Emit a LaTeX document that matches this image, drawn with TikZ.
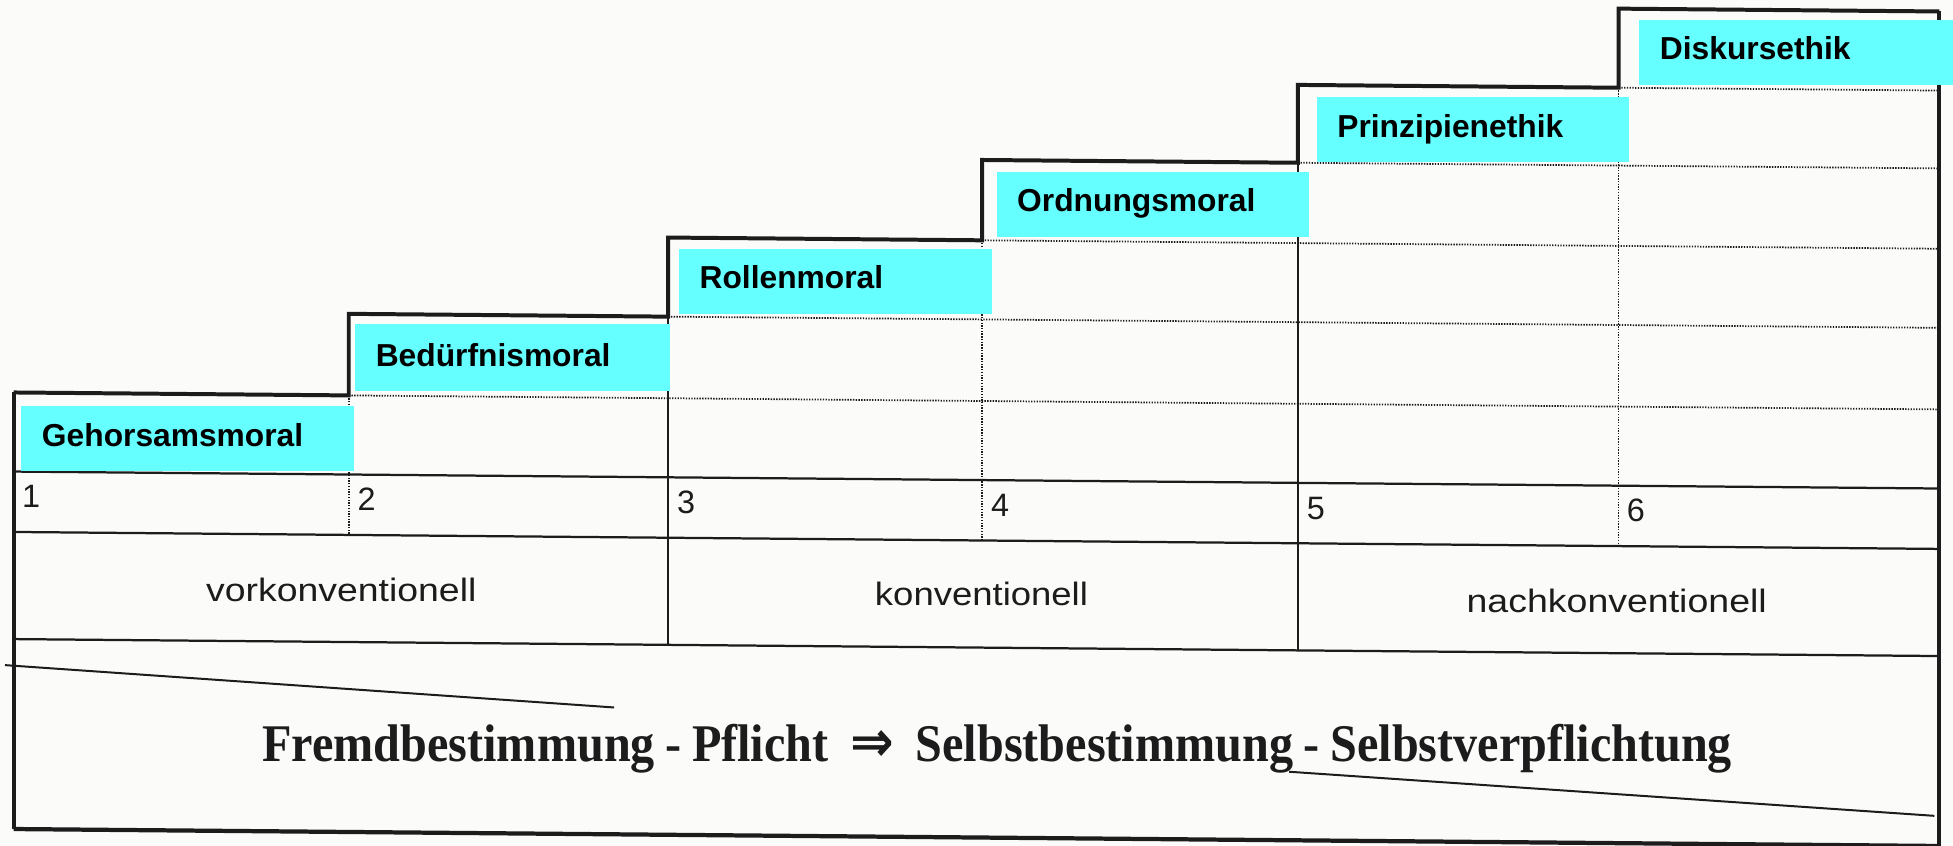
\documentclass[tikz,border=0pt]{standalone}
\usepackage{fontspec}
\newfontfamily\sansf{Liberation Sans}
\newfontfamily\seriff{Liberation Serif}
\newfontfamily\arrowf{DejaVu Sans}
\definecolor{cyanbox}{RGB}{102,255,255}
\definecolor{paper}{RGB}{251,251,249}
\definecolor{ink}{RGB}{28,28,28}
\begin{document}
\begin{tikzpicture}[x=1pt,y=-1pt,
  stepline/.style={line width=3.2pt, draw=ink, line join=miter},
  border/.style={line width=3pt, draw=ink},
  rowline/.style={line width=1.8pt, draw=ink},
  colline/.style={line width=1.5pt, draw=ink},
  dotline/.style={line width=1.4pt, draw=ink, dash pattern=on 1.1pt off 1.1pt},
  diag/.style={line width=1.6pt, draw=ink},
  levelbox/.style={fill=cyanbox, draw=none, inner sep=0pt, anchor=north west},
  boxtext/.style={anchor=base west, inner sep=0pt, font=\fontsize{25.5}{30}\sansf\bfseries},
  numtext/.style={anchor=base west, inner sep=0pt, text=ink, font=\fontsize{26}{30}\sansf},
  stagetext/.style={anchor=base, inner sep=0pt, text=ink, font=\fontsize{26}{30}\sansf}]
\useasboundingbox (0,0) rectangle (1568,679.2);
\fill[paper] (0,0) rectangle (1568,679.2);

\begin{scope}[yslant=-0.0088]
  \path (11,315) coordinate (s1)
        (280,315) coordinate (s1r) (280,249.5) coordinate (s2)
        (536.5,249.5) coordinate (s2r) (536.5,186) coordinate (s3)
        (788.5,186) coordinate (s3r) (788.5,121.5) coordinate (s4)
        (1042,121.5) coordinate (s4r) (1042,59) coordinate (s5)
        (1299.5,59) coordinate (s5r) (1299.5,-4.5) coordinate (s6)
        (1557,-4.5) coordinate (s6r);
  % dotted horizontal level lines
  \draw[dotline] (280,315) -- (1557,315);
  \draw[dotline] (536.5,249.5) -- (1557,249.5);
  \draw[dotline] (788.5,186) -- (1557,186);
  \draw[dotline] (1042,121.5) -- (1557,121.5);
  \draw[dotline] (1299.5,59) -- (1557,59);
  % dotted verticals
  \draw[dotline] (280,315) -- (280,427);
  \draw[dotline] (788.5,186) -- (788.5,427);
  \draw[dotline] (1299.5,59) -- (1299.5,427);
  % solid verticals
  \draw[colline] (536.5,249.5) -- (536.5,513);
  \draw[colline] (1042,121.5) -- (1042,513);
  % row lines
  \draw[rowline] (11,378.5) -- (1557,378.5);
  \draw[rowline] (11,427) -- (1557,427);
  \draw[rowline] (11,513) -- (1557,513);
  \draw[line width=3.4pt, draw=ink] (11,665.5) -- (1557,665.5);
  % borders
  \draw[border] (11,315) -- (11,665.5);
  \draw[border] (1557,-4.5) -- (1557,665.5);
  % staircase
  \draw[stepline] (s1) -- (s1r) -- (s2) -- (s2r) -- (s3) -- (s3r) -- (s4)
     -- (s4r) -- (s5) -- (s5r) -- (s6) -- (s6r);
  % numbers
  \node[numtext] (n1) at (17.5,407.5) {1};
  \node[numtext] (n2) at (287,407.5) {2};
  \node[numtext] (n3) at (543.5,407.5) {3};
  \node[numtext] (n4) at (795.5,407.5) {4};
  \node[numtext] (n5) at (1049,407.5) {5};
  \node[numtext] (n6) at (1306,407.5) {6};
  % stages
  \node[stagetext] (vor) at (274,480.5) {\resizebox{217pt}{\height}{vorkonventionell}};
  \node[stagetext] (kon) at (788,479.5) {\resizebox{171pt}{\height}{konventionell}};
  \node[stagetext] (nach) at (1298,480.5) {\resizebox{241pt}{\height}{nachkonventionell}};
\end{scope}

% diagonal lines of the bottom band
\draw[diag] (4,534) -- (493,568);
\draw[diag] (1035,619.6) -- (1553,655);

\node[anchor=base, inner sep=0pt, text=ink] (motto) at (800.6,611)
  {\resizebox{1180pt}{\height}{\fontsize{42.5}{48}\seriff\bfseries Fremdbestimmung\hspace{0.22em}-\hspace{0.22em}Pflicht\hspace{0.45em}{\arrowf\fontsize{46}{48}\selectfont ⇒}\hspace{0.45em}Selbstbestimmung\hspace{0.22em}-\hspace{0.22em}Selbstverpflichtung}};

% cyan level boxes
\node[levelbox, minimum width=267pt, minimum height=52pt] (b1) at (17,326) {};
\node[levelbox, minimum width=252.5pt, minimum height=53.5pt] (b2) at (285,260) {};
\node[levelbox, minimum width=251.5pt, minimum height=52pt] (b3) at (545,200) {};
\node[levelbox, minimum width=251pt, minimum height=52pt] (b4) at (800,138) {};
\node[levelbox, minimum width=251pt, minimum height=52pt] (b5) at (1057,78) {};
\node[levelbox, minimum width=252pt, minimum height=52pt] (b6) at (1316,16) {};
\node[boxtext] (t1) at (33.5,358.5) {Gehorsamsmoral};
\node[boxtext] (t2) at (301.5,294) {Bedürfnismoral};
\node[boxtext] (t3) at (561.5,232) {Rollenmoral};
\node[boxtext] (t4) at (816.5,170) {Ordnungsmoral};
\node[boxtext] (t5) at (1073.5,110) {Prinzipienethik};
\node[boxtext] (t6) at (1332.5,48) {Diskursethik};
\end{tikzpicture}
\end{document}
